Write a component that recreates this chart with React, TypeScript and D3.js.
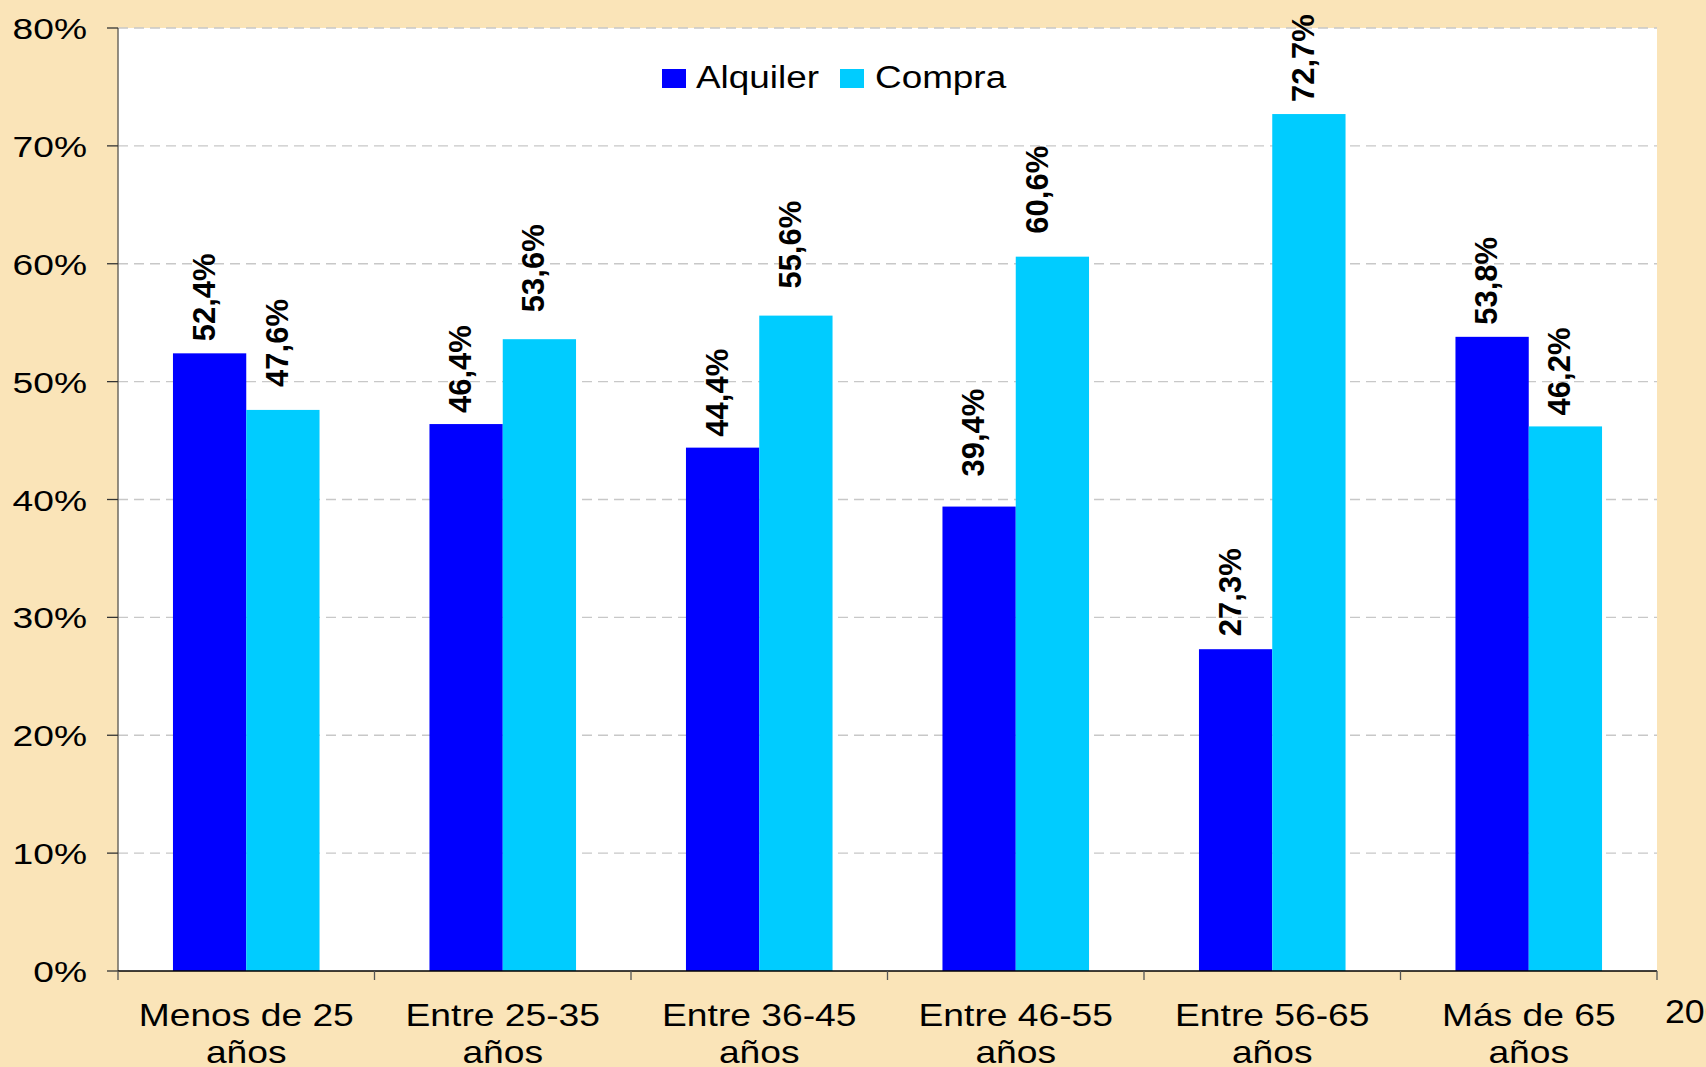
import React from "react";
import * as d3 from "d3";

const categories: string[][] = [
  ["Menos de 25", "años"],
  ["Entre 25-35", "años"],
  ["Entre 36-45", "años"],
  ["Entre 46-55", "años"],
  ["Entre 56-65", "años"],
  ["Más de 65", "años"],
];
const alquiler = [52.4, 46.4, 44.4, 39.4, 27.3, 53.8];
const compra = [47.6, 53.6, 55.6, 60.6, 72.7, 46.2];
const seriesNames = ["Alquiler", "Compra"];
const yTicks = [0, 10, 20, 30, 40, 50, 60, 70, 80];

const W = 1706;
const H = 1067;
const left = 118;
const right = 1657;
const top = 28;
const bottom = 971;
const colors = ["#0000FF", "#00CCFF"];
const font = "'Liberation Sans', Arial, sans-serif";

// label placement quirks of the original renderer (gap above bar, horizontal nudge)
const labelGap = [
  [12, 11, 11, 30, 13, 12],
  [23, 27, 27, 23, 12, 11],
];
const labelDx = [
  [0, 0, 0, 0, 0, 0],
  [0, 0, 0, -9, 0, 0],
];

export default function App() {
  const x = d3
    .scaleBand<number>()
    .domain(d3.range(categories.length))
    .range([left, right])
    .paddingInner(0)
    .paddingOuter(0);
  const y = d3.scaleLinear().domain([0, 80]).range([bottom, top]);
  const bw = x.bandwidth() / 3.5;
  const series = [alquiler, compra];
  const fmt = (v: number) => v.toFixed(1).replace(".", ",") + "%";

  return (
    <svg
      width={W}
      height={H}
      style={{ position: "absolute", left: 0, top: 0, display: "block" }}
    >
      <rect x={0} y={0} width={W} height={H} fill="#FAE4B8" />
      <rect x={left} y={top} width={right - left} height={bottom - top} fill="#FFFFFF" />
      {yTicks.slice(1).map((t) => (
        <line
          key={"g" + t}
          x1={left}
          x2={right}
          y1={y(t)}
          y2={y(t)}
          stroke="#C8C8C8"
          strokeWidth={1.3}
          strokeDasharray="10,6"
        />
      ))}
      {series.map((vals, si) =>
        vals.map((v, i) => {
          const bx = (x(i) as number) + bw * 0.75 + si * bw;
          return (
            <rect
              key={"b" + si + "-" + i}
              x={bx}
              y={y(v)}
              width={bw}
              height={bottom - y(v)}
              fill={colors[si]}
            />
          );
        })
      )}
      {series.map((vals, si) =>
        vals.map((v, i) => {
          const cx = (x(i) as number) + bw * 0.75 + si * bw + bw / 2;
          const ty = y(v) - labelGap[si][i];
          return (
            <text
              key={"l" + si + "-" + i}
              transform={`translate(${cx + 5 + labelDx[si][i]},${ty}) rotate(-90)`}
              fontFamily={font}
              fontWeight="bold"
              fontSize={31}
              fill="#000"
            >
              {fmt(v)}
            </text>
          );
        })
      )}
      {/* y axis */}
      <line x1={left} x2={left} y1={top} y2={bottom} stroke="#6E6A60" strokeWidth={1.5} />
      {yTicks.map((t) => (
        <g key={"yt" + t}>
          <line x1={107} x2={left} y1={y(t)} y2={y(t)} stroke="#333" strokeWidth={1.3} />
          <text
            transform={`translate(87,${y(t) + 11}) scale(1.24,1)`}
            textAnchor="end"
            fontFamily={font}
            fontSize={30}
            fill="#000"
          >
            {t + "%"}
          </text>
        </g>
      ))}
      {/* x axis */}
      <line x1={left} x2={right} y1={bottom} y2={bottom} stroke="#000" strokeWidth={1.5} />
      {d3.range(categories.length + 1).map((i) => {
        const xx = i < categories.length ? (x(i) as number) : right;
        return (
          <line
            key={"xt" + i}
            x1={xx}
            x2={xx}
            y1={bottom}
            y2={bottom + 9}
            stroke="#555"
            strokeWidth={1.3}
          />
        );
      })}
      {categories.map((lines, i) => {
        const cx = (x(i) as number) + x.bandwidth() / 2;
        return lines.map((ln, li) => (
          <text
            key={"c" + i + "-" + li}
            transform={`translate(${cx},${1026 + li * 37}) scale(1.2,1)`}
            textAnchor="middle"
            fontFamily={font}
            fontSize={31}
            fill="#000"
          >
            {ln}
          </text>
        ));
      })}
      <text
        transform={`translate(1665,1023) scale(1.05,1)`}
        fontFamily={font}
        fontSize={34}
        fill="#000"
      >
        2007
      </text>
      {/* legend */}
      <rect x={662} y={69} width={24} height={19} fill={colors[0]} />
      <text
        transform="translate(696,88) scale(1.19,1)"
        fontFamily={font}
        fontSize={31}
        fill="#000"
      >
        {seriesNames[0]}
      </text>
      <rect x={840} y={69} width={24} height={19} fill={colors[1]} />
      <text
        transform="translate(875,88) scale(1.19,1)"
        fontFamily={font}
        fontSize={31}
        fill="#000"
      >
        {seriesNames[1]}
      </text>
    </svg>
  );
}
